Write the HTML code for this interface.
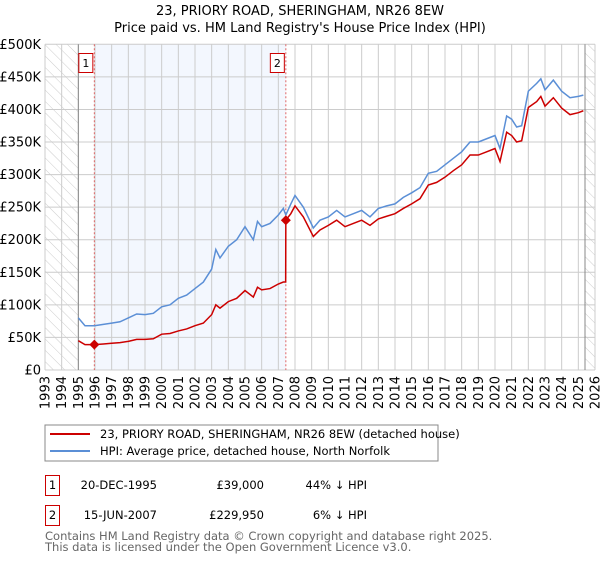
<!DOCTYPE html>
<html><head><meta charset="utf-8">
<style>
body{margin:0;background:#fff;font-family:"Liberation Sans","DejaVu Sans",sans-serif;}
svg text{font-family:"DejaVu Sans","Liberation Sans",sans-serif;}
</style></head>
<body>
<svg id="c" width="600" height="560" xmlns="http://www.w3.org/2000/svg">
<defs>
<pattern id="hatch" width="8" height="8" patternUnits="userSpaceOnUse" patternTransform="rotate(-45)">
<line x1="0" y1="0" x2="0" y2="8" stroke="#ccc" stroke-width="1"/>
</pattern>
</defs>
<text x="300" y="15" text-anchor="middle" font-size="13" fill="#000">23, PRIORY ROAD, SHERINGHAM, NR26 8EW</text>
<text x="300" y="32" text-anchor="middle" font-size="13" fill="#000">Price paid vs. HM Land Registry's House Price Index (HPI)</text>
<g id="plot"></g>
<rect x="45" y="425" width="393" height="36" fill="#fff" stroke="#888"/>
<line x1="50" y1="434" x2="90" y2="434" stroke="#cc0000" stroke-width="2"/>
<text x="100" y="438" font-size="11.5">23, PRIORY ROAD, SHERINGHAM, NR26 8EW (detached house)</text>
<line x1="50" y1="451" x2="90" y2="451" stroke="#5b8fd6" stroke-width="2"/>
<text x="100" y="455" font-size="11.5">HPI: Average price, detached house, North Norfolk</text>
<g>
<rect x="45.5" y="475.5" width="14" height="20" fill="#fff" stroke="#cc0000"/>
<text x="52.5" y="489" text-anchor="middle" font-size="11.5">1</text>
<text x="157" y="489" text-anchor="end" font-size="11.5">20-DEC-1995</text>
<text x="264" y="489" text-anchor="end" font-size="11.5">£39,000</text>
<text x="367" y="489" text-anchor="end" font-size="11.5">44% ↓ HPI</text>
</g>
<g>
<rect x="45.5" y="505.5" width="14" height="20" fill="#fff" stroke="#cc0000"/>
<text x="52.5" y="519" text-anchor="middle" font-size="11.5">2</text>
<text x="157" y="519" text-anchor="end" font-size="11.5">15-JUN-2007</text>
<text x="264" y="519" text-anchor="end" font-size="11.5">£229,950</text>
<text x="367" y="519" text-anchor="end" font-size="11.5">6% ↓ HPI</text>
</g>
<text x="45" y="540" font-size="11.5" fill="#666">Contains HM Land Registry data © Crown copyright and database right 2025.</text>
<text x="45" y="551" font-size="11.5" fill="#666">This data is licensed under the Open Government Licence v3.0.</text>
</svg>
<script>
const yTicks=[0,50,100,150,200,250,300,350,400,450,500];
const yTickLabels=["£0","£50K","£100K","£150K","£200K","£250K","£300K","£350K","£400K","£450K","£500K"];
const xYears=[1993,1994,1995,1996,1997,1998,1999,2000,2001,2002,2003,2004,2005,2006,2007,2008,2009,2010,2011,2012,2013,2014,2015,2016,2017,2018,2019,2020,2021,2022,2023,2024,2025,2026];
const hpiT=[1995,1995.4,1995.96,1996.5,1997,1997.5,1998,1998.5,1999,1999.5,2000,2000.5,2001,2001.5,2002,2002.5,2003,2003.25,2003.5,2004,2004.5,2005,2005.5,2005.75,2006,2006.5,2007,2007.3,2007.45,2007.75,2008,2008.5,2009.1,2009.5,2010,2010.5,2011,2011.5,2012,2012.5,2013,2013.5,2014,2014.5,2015,2015.5,2016,2016.5,2017,2017.5,2018,2018.5,2019,2019.5,2020,2020.3,2020.7,2021,2021.3,2021.6,2022,2022.5,2022.75,2023,2023.5,2024,2024.5,2025,2025.3];
const hpiV=[80,68,68,70,72,74,80,86,85,87,97,100,110,115,125,135,155,185,172,190,200,220,200,228,220,225,238,248,238,255,268,250,218,230,235,245,235,240,245,235,248,252,255,265,272,280,302,305,315,325,335,350,350,355,360,340,390,385,373,375,428,440,447,430,445,428,418,420,422];
const priceT=[1995,1995.4,1995.96,1996.5,1997,1997.5,1998,1998.5,1999,1999.5,2000,2000.5,2001,2001.5,2002,2002.5,2003,2003.25,2003.5,2004,2004.5,2005,2005.5,2005.75,2006,2006.5,2007,2007.3,2007.44,2007.45,2007.75,2008,2008.5,2009.1,2009.5,2010,2010.5,2011,2011.5,2012,2012.5,2013,2013.5,2014,2014.5,2015,2015.5,2016,2016.5,2017,2017.5,2018,2018.5,2019,2019.5,2020,2020.3,2020.7,2021,2021.3,2021.6,2022,2022.5,2022.75,2023,2023.5,2024,2024.5,2025,2025.3];
const priceV=[45,39,39,40,41,42,44,47,47,48,55,56,60,63,68,72,85,100,95,105,110,122,112,127,123,125,132,135,135,230,240,252,235,205,215,222,230,220,225,230,222,232,236,240,248,255,263,284,288,296,306,315,330,330,335,340,320,365,360,350,352,403,412,420,405,418,402,392,395,398];
const sales=[{t:1995.96,v:39,n:"1"},{t:2007.45,v:229.95,n:"2"}];
const X0=45,X1=595,Y0=370,Y1=44.3;
const xs=t=>X0+(t-1993)/(2026-1993)*(X1-X0);
const ys=v=>Y0-v/500*(Y0-Y1);
const NS="http://www.w3.org/2000/svg";
const g=document.getElementById('plot');
function mk(tag,attrs,parent){const e=document.createElementNS(NS,tag);for(const k in attrs)e.setAttribute(k,attrs[k]);(parent||g).appendChild(e);return e;}
let e;
e=mk('rect',{x:xs(1993),y:Y1,width:xs(1995)-xs(1993),height:Y0-Y1,fill:'url(#hatch)'});


e=mk('rect',{x:xs(2025.4),y:Y1,width:X1-xs(2025.4),height:Y0-Y1,fill:'url(#hatch)'});


e=mk('rect',{x:xs(sales[0].t),y:Y1,width:xs(sales[1].t)-xs(sales[0].t),height:Y0-Y1,fill:'#eef3fd',opacity:0.7});


xYears.forEach(yr=>{
 e=mk('line',{x1:xs(yr),x2:xs(yr),y1:Y1,y2:Y0,stroke:'#ccc','stroke-width':1});
 
 
 e=mk('text',{x:0,y:0,transform:`translate(${xs(yr)+4.5},${Y0+6}) rotate(-90)`,'text-anchor':'end','font-size':13});
 e.textContent=yr;
 
 
});
yTicks.forEach((v,i)=>{
 e=mk('line',{x1:X0,x2:X1,y1:ys(v),y2:ys(v),stroke:'#ccc','stroke-width':1});
 
 
 e=mk('text',{x:X0-4,y:ys(v)+4.5,'text-anchor':'end','font-size':13});
 e.textContent=yTickLabels[i];
 
 
});
e=mk('line',{x1:xs(1995),x2:xs(1995),y1:Y1,y2:Y0,stroke:'#888'});


e=mk('line',{x1:xs(2025.4),x2:xs(2025.4),y1:Y1,y2:Y0,stroke:'#888'});


sales.forEach(s=>{
 e=mk('line',{x1:xs(s.t),x2:xs(s.t),y1:Y1,y2:Y0,stroke:'#e06666','stroke-dasharray':'2,2'});
 
 
 e=mk('rect',{x:xs(s.t)-15.5,y:53.5,width:14,height:19,fill:'#fff',stroke:'#cc0000'});
 
 
 e=mk('text',{x:xs(s.t)-8.5,y:67,'text-anchor':'middle','font-size':11});
 e.textContent=s.n;
 
 
});
e=mk('polyline',{points:hpiT.map((t,i)=>xs(t)+','+ys(hpiV[i])).join(' '),fill:'none',stroke:'#5b8fd6','stroke-width':1.5});


e=mk('polyline',{points:priceT.map((t,i)=>xs(t)+','+ys(priceV[i])).join(' '),fill:'none',stroke:'#cc0000','stroke-width':1.5});


sales.forEach(s=>{
 const cx=xs(s.t),cy=ys(s.v);
 e=mk('polygon',{points:`${cx},${cy-5} ${cx+5},${cy} ${cx},${cy+5} ${cx-5},${cy}`,fill:'#cc0000'});
 
 
});
</script>
</body></html>
